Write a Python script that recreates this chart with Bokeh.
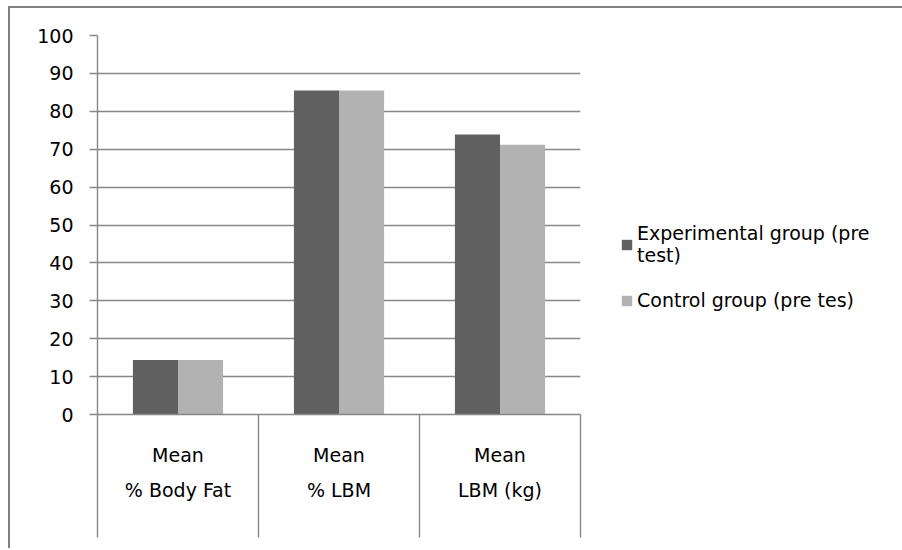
from bokeh.plotting import figure
from bokeh.models import (ColumnDataSource, Range1d, FixedTicker, Legend, LegendItem)
from bokeh.transform import dodge
from bokeh.embed import file_html
from bokeh.resources import INLINE

# ---- data ----
categories = ["% Body Fat", "% LBM", "LBM (kg)"]
stat_label = "Mean"
experimental_pre = [14.4, 85.5, 73.9]
control_pre = [14.4, 85.5, 71.2]
series_names = ["Experimental group (pre\ntest)", "Control group (pre tes)"]
y_ticks = [0, 10, 20, 30, 40, 50, 60, 70, 80, 90, 100]

GRID = "#878787"
DARK = "#606060"
LIGHT = "#b2b2b2"
FONT = "DejaVu Sans"

n = len(categories)
centers = [i + 0.5 for i in range(n)]
src = ColumnDataSource(dict(pos=centers, cat=categories,
                            exp=experimental_pre, ctl=control_pre))

p = figure(x_range=Range1d(0, n), y_range=Range1d(0, 100),
           frame_width=483, frame_height=379,
           min_border_left=87, min_border_right=10,
           min_border_top=27, min_border_bottom=134,
           output_backend="svg", toolbar_location=None)
p.styles = {"margin-left": "8px", "margin-top": "6px",
            "border-left": "2px solid #808080", "border-top": "2px solid #808080"}
p.outline_line_color = None
p.background_fill_color = "white"
p.border_fill_color = "white"

r_exp = p.vbar(x=dodge("pos", -0.14), top="exp", width=0.28,
               source=src, fill_color=DARK, line_color=None)
r_ctl = p.vbar(x=dodge("pos", 0.14), top="ctl", width=0.28,
               source=src, fill_color=LIGHT, line_color=None)

# y axis
yt = FixedTicker(ticks=y_ticks)
p.yaxis.ticker = yt
p.ygrid.ticker = yt
p.ygrid.grid_line_color = GRID
p.ygrid.grid_line_width = 1.4
p.xgrid.visible = False
p.yaxis.axis_line_color = GRID
p.yaxis.axis_line_width = 1.4
p.yaxis.major_tick_line_color = GRID
p.yaxis.major_tick_line_width = 1.4
p.yaxis.major_tick_out = 8
p.yaxis.major_tick_in = 0
p.yaxis.minor_tick_line_color = None
p.yaxis.major_label_text_font = FONT
p.yaxis.major_label_text_font_size = "19px"
p.yaxis.major_label_text_color = "#000000"
p.yaxis.major_label_standoff = 16

# category axis with separators
xa = p.xaxis[0]
xa.ticker = FixedTicker(ticks=centers, minor_ticks=list(range(n + 1)))
xa.major_label_overrides = {c: f"{stat_label}\n{name}" for c, name in zip(centers, categories)}
xa.axis_line_color = GRID
xa.axis_line_width = 1.4
xa.major_tick_out = 0
xa.major_tick_in = 0
xa.major_tick_line_color = None
xa.minor_tick_out = 123
xa.minor_tick_in = 0
xa.minor_tick_line_color = GRID
xa.minor_tick_line_width = 1.4
xa.major_label_standoff = -94
xa.major_label_text_font = FONT
xa.major_label_text_font_size = "19px"
xa.major_label_text_line_height = 1.6
xa.major_label_text_color = "#000000"

legend = Legend(items=[LegendItem(label=series_names[0], renderers=[r_exp]),
                       LegendItem(label=series_names[1], renderers=[r_ctl])],
                location=(40, 103))
legend.border_line_color = None
legend.background_fill_alpha = 0
legend.padding = 0
legend.margin = 0
legend.spacing = 23
legend.glyph_width = 13
legend.glyph_height = 13
legend.label_standoff = 4
legend.label_text_font = FONT
legend.label_text_font_size = "19px"
legend.label_text_line_height = 1.55
legend.label_text_color = "#000000"
p.add_layout(legend, "right")

open("out.html", "w").write(file_html(p, INLINE))
